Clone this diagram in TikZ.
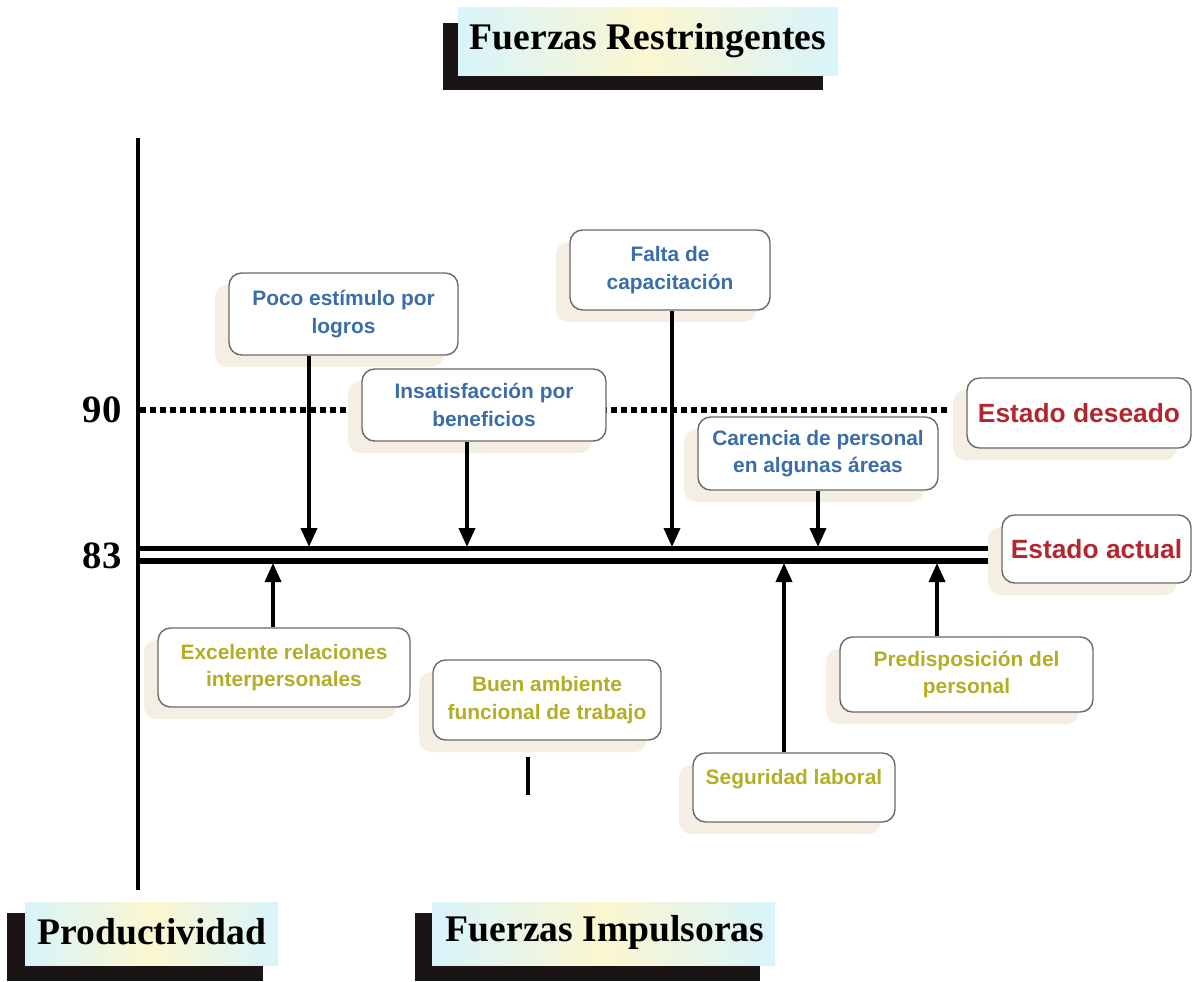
\documentclass[tikz,border=0pt]{standalone}
\usepackage{fontspec}
\setmainfont{Liberation Serif}
\setsansfont{Liberation Sans}
\usetikzlibrary{arrows.meta,shadows}
\definecolor{txtblue}{HTML}{3B6EA8}
\definecolor{txtred}{HTML}{B3262D}
\definecolor{txtolive}{HTML}{B3AE25}
\definecolor{boxgray}{HTML}{6A6A6A}
\definecolor{shadowc}{HTML}{F5EFE3}
\definecolor{titlecyan}{HTML}{D8F4FB}
\definecolor{titleyellow}{HTML}{FBF6D0}
\definecolor{titleblack}{HTML}{1A1414}
\tikzset{
  box/.style={draw=boxgray, line width=0.8pt, fill=white, rounded corners=0.25cm,
    align=center, inner sep=0pt,
    font=\sffamily\bfseries\fontsize{11.9}{15.5}\selectfont,
    drop shadow={shadow xshift=-0.28cm, shadow yshift=-0.24cm, fill=shadowc, opacity=1}},
  bluebox/.style={box, text=txtblue},
  olivebox/.style={box, text=txtolive},
  redbox/.style={box, text=txtred, font=\sffamily\bfseries\fontsize{15}{18}\selectfont},
  arr/.style={line width=2.1pt, -{Triangle[length=0.38cm,width=0.32cm]}},
  thickline/.style={line width=3pt},
  titletext/.style={font=\bfseries\fontsize{21.4}{24}\selectfont, inner sep=0pt},
  numtext/.style={font=\bfseries\fontsize{22}{24}\selectfont, inner sep=0pt},
}
\begin{document}
\begin{tikzpicture}[x=0.02cm,y=-0.02cm]
\useasboundingbox (0,0) rectangle (1193,981);
\fill[white] (0,0) rectangle (1193,981);

% Title boxes
\fill[titleblack] (443,23) rectangle (823,90);
\shade[left color=titlecyan, right color=titlecyan, middle color=titleyellow] (458,7) rectangle (838,75);
\node[titletext] (trest) at (648,41) {Fuerzas Restringentes};

\fill[titleblack] (7,913) rectangle (263,981);
\shade[left color=titlecyan, right color=titlecyan, middle color=titleyellow] (25,902) rectangle (278,965);
\node[titletext] (tprod) at (152,932) {Productividad};

\fill[titleblack] (415,913) rectangle (760,981);
\shade[left color=titlecyan, right color=titlecyan, middle color=titleyellow] (432,902) rectangle (775,965);
\node[titletext] (timp) at (605,932) {Fuerzas Impulsoras};

% axis
\draw[line width=2.6pt] (138,138) -- (138,890);
\node[numtext] (n90) at (102,410) {90};
\node[numtext] (n83) at (102,556) {83};

% dotted desired line
\draw[line width=3pt, dash pattern=on 3.4pt off 2.3pt] (140,410) -- (950,410);

% boxes
\node[bluebox, minimum width=4.58cm, minimum height=1.64cm] (poco) at (343.5,314) {Poco estímulo por\\logros};
\node[bluebox, minimum width=4.88cm, minimum height=1.44cm] (insat) at (484,405) {Insatisfacción por\\beneficios};
\node[bluebox, minimum width=4.0cm, minimum height=1.6cm] (falta) at (670,270) {Falta de\\capacitación};
\node[bluebox, minimum width=4.8cm, minimum height=1.46cm] (caren) at (818,453.5) {Carencia de personal\\en algunas áreas};
\node[redbox, minimum width=4.48cm, minimum height=1.4cm] (deseado) at (1079,413) {Estado deseado};
\node[redbox, minimum width=3.78cm, minimum height=1.36cm] (actual) at (1096.5,549) {Estado actual};
\node[olivebox, minimum width=5.04cm, minimum height=1.58cm] (excel) at (284,667.5) {Excelente relaciones\\interpersonales};
\node[olivebox, minimum width=4.56cm, minimum height=1.6cm] (buen) at (547,700) {Buen ambiente\\funcional de trabajo};
\node[olivebox, minimum width=4.04cm, minimum height=1.38cm, text depth=0.44cm] (segur) at (794,787.5) {Seguridad laboral};
\node[olivebox, minimum width=5.06cm, minimum height=1.5cm] (predis) at (966.5,674.5) {Predisposición del\\personal};

% current state double line
\draw[thickline] (140,548.5) -- (988,548.5);
\draw[thickline] (140,561) -- (988,561);

% restraining arrows
\coordinate (d1) at (309,547);
\coordinate (d2) at (467,547);
\coordinate (d3) at (672,547);
\coordinate (d4) at (818,547);
\draw[arr] (poco.south -| d1) -- (d1);
\draw[arr] (insat.south -| d2) -- (d2);
\draw[arr] (falta.south -| d3) -- (d3);
\draw[arr] (caren.south -| d4) -- (d4);

% driving arrows
\coordinate (u1) at (273,563);
\coordinate (u2) at (784,563);
\coordinate (u3) at (937,563);
\draw[arr] (excel.north -| u1) -- (u1);
\draw[arr] (segur.north -| u2) -- (u2);
\draw[arr] (predis.north -| u3) -- (u3);

% short stub below Buen ambiente
\coordinate (s1) at (528,757);
\coordinate (s2) at (528,795);
\draw[line width=2.1pt] (s1) -- (s2);
\end{tikzpicture}
\end{document}
